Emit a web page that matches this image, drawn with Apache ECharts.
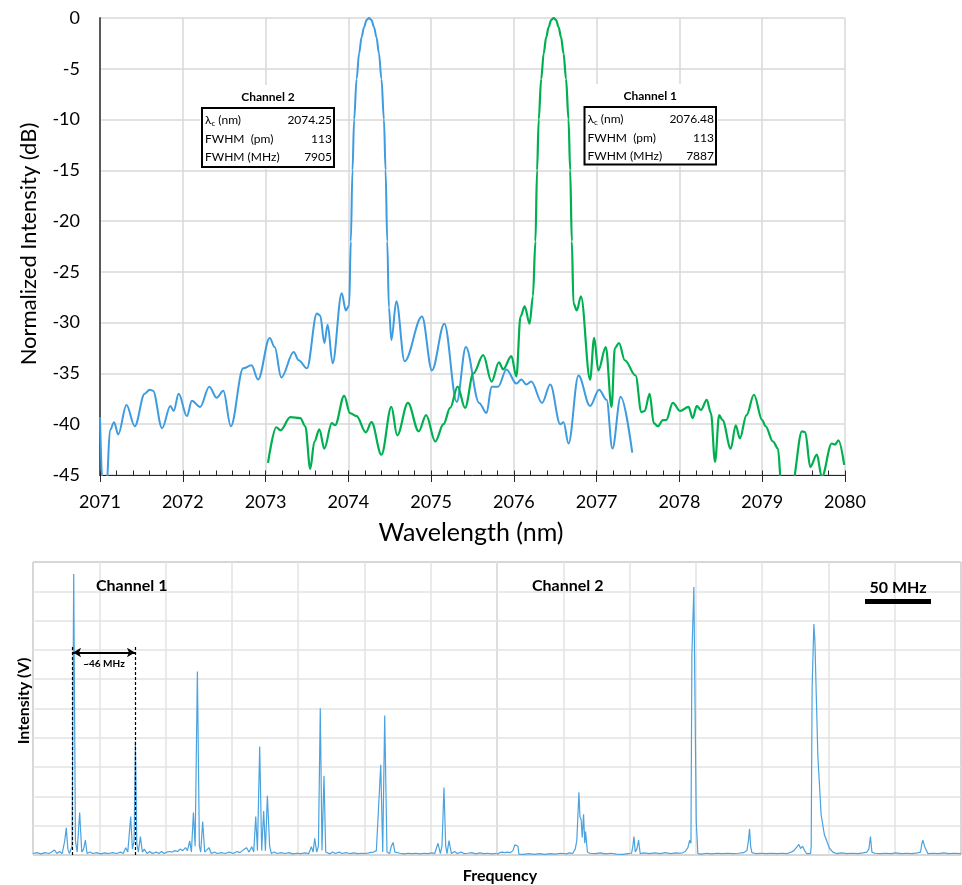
<!DOCTYPE html>
<html>
<head>
<meta charset="utf-8">
<script src="https://cdn.jsdelivr.net/npm/echarts@6/dist/echarts.min.js"></script>
<style>
html,body{margin:0;padding:0;background:#fff;}
#chart{width:962px;height:885px;}
</style>
</head>
<body>
<div id="chart"></div>
<script>
// ---------- Data ----------
// Optical spectrum, Channel 2 (blue): [wavelength nm, dB]
const specCh2 = [
[2071.00,-39.3],[2071.03,-46],[2071.05,-48],[2071.08,-46],[2071.12,-40.6],[2071.17,-39.8],[2071.22,-41],[2071.32,-38.1],[2071.42,-40.2],[2071.54,-37],[2071.60,-36.6],[2071.64,-36.7],[2071.75,-40.4],[2071.85,-38.2],[2071.89,-38.7],[2071.95,-37],[2072.05,-39.2],[2072.11,-37.7],[2072.21,-38.3],[2072.32,-36.3],[2072.41,-37.4],[2072.49,-36.7],[2072.58,-40.2],[2072.73,-34.5],[2072.83,-34.2],[2072.91,-35.6],[2073.05,-31.5],[2073.11,-32.4],[2073.19,-35.4],[2073.34,-32.9],[2073.40,-33.7],[2073.50,-34.5],[2073.62,-29.1],[2073.66,-29.3],[2073.71,-32],[2073.75,-30.2],[2073.81,-34],[2073.92,-27.1],[2073.97,-28.8],[2074.01,-28.3],
[2074.03,-22],[2074.05,-15],[2074.07,-10],[2074.10,-6],[2074.13,-3.5],[2074.16,-1.9],[2074.19,-0.9],[2074.22,-0.2],[2074.25,0],[2074.28,-0.2],[2074.31,-0.9],[2074.34,-1.9],[2074.37,-3.5],[2074.40,-6],[2074.43,-10],[2074.45,-15],[2074.47,-22],[2074.49,-28.5],
[2074.52,-31.7],[2074.58,-27.9],[2074.68,-33.8],[2074.89,-29.4],[2075.01,-34.7],[2075.16,-30.1],[2075.31,-37.8],[2075.42,-32.4],[2075.58,-37.9],[2075.67,-38.9],[2075.73,-36.3],[2075.81,-36.3],[2075.91,-34.6],[2076.03,-36],[2076.09,-35.6],[2076.15,-36.1],[2076.21,-35.8],[2076.34,-37.9],[2076.44,-36.1],[2076.56,-40],[2076.60,-39.8],[2076.66,-41.9],[2076.78,-35.2],[2076.92,-38.2],[2077.03,-36.6],[2077.12,-37.6],[2077.19,-42.4],[2077.29,-37.3],[2077.43,-42.8]
];
// Optical spectrum, Channel 1 (green)
const specCh1 = [
[2073.03,-43.8],[2073.13,-40.3],[2073.18,-40.6],[2073.30,-39.3],[2073.42,-39.4],[2073.48,-40.2],[2073.54,-44.4],[2073.59,-41.7],[2073.65,-40.5],[2073.71,-42.4],[2073.80,-39.9],[2073.84,-40.1],[2073.95,-37.2],[2074.02,-38.9],[2074.10,-39.2],[2074.21,-40.8],[2074.28,-39.8],[2074.40,-43],[2074.52,-38.3],[2074.59,-41.1],[2074.72,-37.9],[2074.85,-40.7],[2074.94,-39.1],[2075.05,-41.7],[2075.15,-40],[2075.23,-38.4],[2075.32,-36.3],[2075.41,-38.4],[2075.51,-35],[2075.63,-33.2],[2075.73,-35.8],[2075.82,-33.9],[2075.87,-34.6],[2075.97,-33.3],[2076.03,-35.3],[2076.08,-29.4],[2076.13,-28.4],[2076.19,-30.1],[2076.23,-27.4],
[2076.26,-22],[2076.28,-15],[2076.30,-10],[2076.33,-6],[2076.36,-3.5],[2076.39,-1.9],[2076.42,-0.9],[2076.45,-0.2],[2076.48,0],[2076.51,-0.2],[2076.54,-0.9],[2076.57,-1.9],[2076.60,-3.5],[2076.63,-6],[2076.66,-10],[2076.68,-15],[2076.70,-22],[2076.72,-28.1],
[2076.76,-28.8],[2076.81,-27.4],[2076.92,-35.6],[2076.97,-31.5],[2077.02,-34.7],[2077.11,-32.4],[2077.18,-38.3],[2077.22,-32.5],[2077.27,-32],[2077.34,-33.7],[2077.47,-35.2],[2077.54,-38.8],[2077.58,-38.7],[2077.64,-37],[2077.69,-39.9],[2077.74,-40.2],[2077.80,-39.6],[2077.84,-39.6],[2077.92,-37.9],[2078.01,-38.7],[2078.11,-38.3],[2078.16,-39.4],[2078.21,-38.2],[2078.26,-38.6],[2078.33,-37.6],[2078.38,-38.9],[2078.43,-43.7],[2078.48,-39.1],[2078.52,-39.6],[2078.62,-42.4],[2078.68,-40.1],[2078.73,-41.4],[2078.81,-39.1],[2078.90,-37.1],[2079.00,-39.6],[2079.04,-40.2],[2079.13,-41.7],[2079.19,-42.4],[2079.23,-46],[2079.29,-49],[2079.36,-46],[2079.48,-40.7],[2079.52,-40.8],[2079.58,-44.2],[2079.66,-43],[2079.72,-45.2],[2079.84,-41.9],[2079.88,-42],[2079.92,-41.6],[2079.99,-44]
];
// RF beat spectrum, Channel 1: [frequency MHz, intensity (grid units)]
const rfCh1 = [
[0,0.05],[3,0.08],[6,0.04],[9,0.08],[12,0.05],[14,0.1],[16.3,0.17],[18,0.05],[20,0.12],[22,0.05],[24,0.5],[25.1,0.93],[26.3,0.2],[27.5,0.05],[29.5,0.3],[30.7,9.59],[32,0.5],[33.3,0.1],[35.2,1.45],[36.8,0.1],[38.2,0.2],[39.5,0.51],[40.8,0.05],[43,0.1],[45,0.05],[48,0.08],[51,0.04],[54,0.07],[57,0.05],[60,0.08],[63,0.05],[66,0.1],[68,0.05],[70,0.25],[71.5,0.1],[73.7,1.31],[75,0.2],[76.3,0.5],[77.2,3.87],[78.3,0.4],[79.5,0.1],[81,0.63],[82.5,0.1],[84,0.2],[86,0.05],[88,0.12],[90,0.05],[93,0.1],[95,0.05],[97,0.12],[99,0.05],[101,0.1],[103,0.12],[105,0.1],[107,0.15],[109,0.12],[111,0.2],[113,0.15],[115,0.25],[116.5,0.15],[118.2,0.48],[119.5,0.1],[121,1.45],[122.3,0.3],[124,6.26],[125.5,0.3],[126.5,0.1],[128,1.14],[129.5,0.1],[131,0.05],[132.8,0.25],[134.5,0.05],[137,0.1],[139,0.05],[142,0.08],[145,0.05],[148,0.1],[151,0.05],[154,0.12],[156,0.08],[158,0.15],[161,0.25],[163,0.1],[165,0.28],[166.5,0.1],[168,1.31],[169.3,0.15],[171,3.7],[172.5,0.15],[174,1.5],[175.3,0.15],[176.8,2.02],[178.5,0.3],[179.8,0.05],[182,0.1],[184,0.05],[187,0.08],[190,0.05],[193,0.08],[196,0.04],[199,0.06],[202,0.05],[205,0.07],[208,0.05],[210,0.28],[211.3,0.1],[212.5,0.57],[214,0.1],[215.3,0.3],[216.7,5.01],[218,0.15],[219.5,2.7],[220.8,0.1],[222,0.05],[224,0.04],[226,0.1],[228,0.05],[231,0.1],[233,0.05],[236,0.08],[239,0.05],[242,0.07],[245,0.05],[248,0.06],[251,0.05],[254,0.08],[257,0.1],[259,0.15],[260.5,0.1],[262.3,3.08],[263.8,0.1],[265.3,4.76],[267,0.1],[269,0.05],[270.3,0.3],[271.6,0.43],[273,0.1],[274.5,0.05],[277,0.06],[280,0.04],[283,0.06],[286,0.05],[289,0.06],[292,0.04],[295,0.06],[298,0.05],[301,0.07],[303,0.05],[305.5,0.4],[307.3,0.05],[308.5,0.3],[310,2.3],[311.3,0.3],[312.3,0.05],[313.8,0.49],[315.6,0.05],[318,0.12],[320,0.05],[323,0.1],[325,0.05],[328,0.06],[331,0.08],[334,0.04],[337,0.07],[340,0.05],[343,0.06],[346,0.04],[350,0.06]
];
// RF beat spectrum, Channel 2
const rfCh2 = [
[0,0.02],[2,0.08],[4,0.1],[6,0.08],[8,0.1],[10,0.08],[12,0.15],[13.5,0.35],[14.6,0.4],[15.8,0.3],[16.5,0.03],[20,0.02],[24,0.05],[28,0.02],[32,0.05],[36,0.02],[40,0.05],[44,0.03],[48,0.06],[52,0.04],[55,0.07],[57,0.05],[59,0.2],[60.2,0.5],[61.8,2.14],[62.6,1.3],[63.5,1.2],[64.3,0.6],[65.3,1.39],[66.2,0.4],[66.8,0.8],[67.4,0.74],[68.2,0.1],[70,0.06],[74,0.05],[78,0.07],[82,0.04],[86,0.06],[90,0.03],[95,0.02],[99,0.05],[101.5,0.06],[102.5,0.3],[103.3,0.63],[104.3,0.1],[105.5,0.2],[106.8,0.51],[108,0.05],[111,0.07],[115,0.05],[119,0.07],[123,0.05],[127,0.08],[131,0.05],[135,0.07],[139,0.06],[142,0.12],[144,0.25],[145.3,0.5],[146.3,0.4],[147,6.8],[148.5,9.15],[149,6.8],[150.3,1.14],[151.5,0.05],[154,0.03],[158,0.06],[162,0.04],[166,0.06],[170,0.05],[174,0.06],[178,0.05],[182,0.06],[186,0.08],[188.5,0.15],[189.7,0.5],[190.5,0.89],[191.3,0.3],[192.3,0.08],[195,0.05],[199,0.06],[203,0.05],[207,0.06],[211,0.05],[215,0.06],[219,0.05],[222,0.1],[224,0.15],[225.5,0.2],[227.7,0.36],[229,0.22],[230.5,0.3],[232,0.15],[233.5,0.05],[236.5,0.05],[237,0.3],[237.7,5.7],[239,7.88],[239.8,7.3],[240.8,5.5],[242,3.4],[244.5,1.37],[247,0.68],[250.8,0.23],[253.3,0.1],[256,0.05],[260,0.07],[264,0.05],[268,0.06],[272,0.05],[276,0.07],[279,0.1],[280.5,0.2],[281.7,0.63],[282.8,0.1],[285,0.06],[289,0.05],[293,0.06],[297,0.05],[301,0.07],[305,0.05],[309,0.06],[313,0.05],[317,0.07],[319.5,0.1],[320.3,0.35],[321.2,0.51],[322.5,0.3],[323.5,0.2],[325,0.05],[329,0.06],[333,0.05],[337,0.07],[341,0.05],[345,0.06],[350,0.05]
];
// Tables
const tableCh2 = { title: 'Channel 2', lambda: '2074.25', fwhmPm: '113', fwhmMHz: '7905' };
const tableCh1 = { title: 'Channel 1', lambda: '2076.48', fwhmPm: '113', fwhmMHz: '7887' };
// Markers for the ~46 MHz spacing (MHz)
const spacingMarks = [29.9, 77.2];

// ---------- Chart ----------
const FONT = 'Lato, "Open Sans", sans-serif';
const chart = echarts.init(document.getElementById('chart'), null, { renderer: 'canvas' });

const grayGrid = '#d9d9d9';
const lightGrid = '#e3e3e3';

function tableGraphics(t, x, y, w, h, titleY) {
  const rowY = [y + 12, y + 31, y + 49];
  const fsz = 12;
  const els = [];
  els.push({ type: 'rect', shape: { x: x - 2, y: titleY - 12, width: w + 4, height: y + h - titleY + 14 }, style: { fill: '#fff' }, z: 100 });
  els.push({ type: 'rect', shape: { x: x, y: y, width: w, height: h }, style: { fill: 'none', stroke: '#000', lineWidth: 2 }, z: 101 });
  els.push({ type: 'text', x: x + w / 2, y: titleY, z: 102, style: { text: t.title, font: 'bold 12px ' + FONT, fill: '#000', align: 'center', verticalAlign: 'middle' } });
  els.push({ type: 'text', x: x + 3, y: rowY[0], z: 102, style: {
    text: '{a|λ}{b|c}{a| (nm)}', verticalAlign: 'middle', align: 'left', fill: '#000',
    rich: { a: { fontSize: fsz, fontFamily: FONT, fill: '#000', lineHeight: 14, verticalAlign: 'middle' },
            b: { fontSize: 8, fontFamily: FONT, fill: '#000', lineHeight: 14, verticalAlign: 'bottom' } } } });
  els.push({ type: 'text', x: x + 3, y: rowY[1], z: 102, style: { text: 'FWHM  (pm)', font: fsz + 'px ' + FONT, fill: '#000', align: 'left', verticalAlign: 'middle' } });
  els.push({ type: 'text', x: x + 3, y: rowY[2], z: 102, style: { text: 'FWHM (MHz)', font: fsz + 'px ' + FONT, fill: '#000', align: 'left', verticalAlign: 'middle' } });
  [t.lambda, t.fwhmPm, t.fwhmMHz].forEach((v, i) => {
    els.push({ type: 'text', x: x + w - 2, y: rowY[i], z: 102, style: { text: v, font: fsz + 'px ' + FONT, fill: '#000', align: 'right', verticalAlign: 'middle' } });
  });
  return els;
}

const option = {
  backgroundColor: '#fff',
  animation: false,
  grid: [
    { left: 100, top: 18, width: 745, height: 457 },
    { left: 33, top: 562, width: 464, height: 293, show: true, borderColor: '#6b6b6b', borderWidth: 1 },
    { left: 497, top: 562, width: 464, height: 293, show: true, borderColor: '#6b6b6b', borderWidth: 1 }
  ],
  xAxis: [
    { gridIndex: 0, type: 'value', min: 2071, max: 2080, interval: 1, position: 'bottom',
      axisLine: { show: true, onZero: false, lineStyle: { color: '#262626', width: 1 } },
      axisTick: { show: true, inside: true, length: 4.5, lineStyle: { color: '#262626' } },
      minorTick: { show: true, splitNumber: 5, length: 4.5, lineStyle: { color: '#262626' } },
      axisLabel: { show: true, fontSize: 18, fontFamily: FONT, color: '#000', margin: 18, formatter: v => String(v) },
      splitLine: { show: true, lineStyle: { color: grayGrid, width: 1.5 } } },
    { gridIndex: 0, type: 'value', min: 2071, max: 2080, interval: 1, position: 'bottom',
      axisLine: { show: false, onZero: false },
      axisTick: { show: true, inside: false, length: 7, lineStyle: { color: '#262626' } },
      axisLabel: { show: false }, splitLine: { show: false } },
    { gridIndex: 1, type: 'value', min: 0, max: 350, interval: 50,
      axisLine: { show: false }, axisTick: { show: false }, axisLabel: { show: false },
      splitLine: { show: true, lineStyle: { color: lightGrid, width: 1.5 } } },
    { gridIndex: 2, type: 'value', min: 0, max: 350, interval: 50,
      axisLine: { show: false }, axisTick: { show: false }, axisLabel: { show: false },
      splitLine: { show: true, lineStyle: { color: lightGrid, width: 1.5 } } }
  ],
  yAxis: [
    { gridIndex: 0, type: 'value', min: -45, max: 0, interval: 5,
      axisLine: { show: true, onZero: false, lineStyle: { color: '#595959', width: 2 } },
      axisTick: { show: false },
      axisLabel: { fontSize: 18, fontFamily: FONT, color: '#000', margin: 20 },
      splitLine: { show: true, lineStyle: { color: grayGrid, width: 1.5 } } },
    { gridIndex: 1, type: 'value', min: 0, max: 10, interval: 1,
      axisLine: { show: false }, axisTick: { show: false }, axisLabel: { show: false },
      splitLine: { show: true, lineStyle: { color: lightGrid, width: 1.5 } } },
    { gridIndex: 2, type: 'value', min: 0, max: 10, interval: 1,
      axisLine: { show: false }, axisTick: { show: false }, axisLabel: { show: false },
      splitLine: { show: true, lineStyle: { color: lightGrid, width: 1.5 } } }
  ],
  series: [
    { name: 'Channel 2', type: 'line', xAxisIndex: 0, yAxisIndex: 0, data: specCh2,
      showSymbol: false, smooth: 0.35, smoothMonotone: 'x', clip: true,
      lineStyle: { color: '#3d9be0', width: 2 } },
    { name: 'Channel 1', type: 'line', xAxisIndex: 0, yAxisIndex: 0, data: specCh1,
      showSymbol: false, smooth: 0.35, smoothMonotone: 'x', clip: true,
      lineStyle: { color: '#00b050', width: 2.2 } },
    { name: 'RF Channel 1', type: 'line', xAxisIndex: 2, yAxisIndex: 1, data: rfCh1,
      showSymbol: false, smooth: false, clip: true,
      lineStyle: { color: '#4aa3df', width: 1.2 },
      markLine: {
        silent: true, animation: false, label: { show: false },
        data: [
          [{ coord: [spacingMarks[0], 0], symbol: 'none', lineStyle: { type: [3, 2], color: '#000', width: 1.2 } }, { coord: [spacingMarks[0], 7.1], symbol: 'none' }],
          [{ coord: [spacingMarks[1], 0], symbol: 'none', lineStyle: { type: [3, 2], color: '#000', width: 1.2 } }, { coord: [spacingMarks[1], 7.1], symbol: 'none' }],
          [{ coord: [spacingMarks[0] + 0.3, 6.91], symbol: 'arrow', symbolSize: [7, 8], lineStyle: { type: 'solid', color: '#000', width: 2 } }, { coord: [spacingMarks[1] - 0.3, 6.91], symbol: 'arrow', symbolSize: [7, 8] }]
        ]
      } },
    { name: 'RF Channel 2', type: 'line', xAxisIndex: 3, yAxisIndex: 2, data: rfCh2,
      showSymbol: false, smooth: false, clip: true,
      lineStyle: { color: '#4aa3df', width: 1.2 } }
  ],
  graphic: [].concat(
    tableGraphics(tableCh2, 202, 108, 132, 59, 97),
    tableGraphics(tableCh1, 584.5, 107, 131.5, 57.5, 96),
    [
      { type: 'text', x: 29, y: 244, rotation: Math.PI / 2, style: { text: 'Normalized Intensity (dB)', font: '22px ' + FONT, fill: '#000', align: 'center', verticalAlign: 'middle' } },
      { type: 'text', x: 471, y: 533, style: { text: 'Wavelength (nm)', font: '25px ' + FONT, fill: '#000', align: 'center', verticalAlign: 'middle' } },
      { type: 'text', x: 24, y: 701, rotation: Math.PI / 2, style: { text: 'Intensity (V)', font: 'bold 16px ' + FONT, fill: '#000', align: 'center', verticalAlign: 'middle' } },
      { type: 'text', x: 500, y: 876, style: { text: 'Frequency', font: 'bold 16px ' + FONT, fill: '#000', align: 'center', verticalAlign: 'middle' } },
      { type: 'text', x: 96, y: 586, z: 100, style: { text: 'Channel 1', font: 'bold 16px ' + FONT, fill: '#000', align: 'left', verticalAlign: 'middle' } },
      { type: 'text', x: 532, y: 586, z: 100, style: { text: 'Channel 2', font: 'bold 16px ' + FONT, fill: '#000', align: 'left', verticalAlign: 'middle' } },
      { type: 'text', x: 898, y: 596, z: 100, style: { text: '50 MHz', font: 'bold 16px ' + FONT, fill: '#000', align: 'center', verticalAlign: 'bottom' } },
      { type: 'rect', z: 100, shape: { x: 865, y: 599, width: 66, height: 5 }, style: { fill: '#000' } },
      { type: 'text', x: 104, y: 664, z: 100, style: { text: '~46 MHz', font: 'bold 10px ' + FONT, fill: '#000', align: 'center', verticalAlign: 'middle' } }
    ]
  )
};
chart.setOption(option);
</script>
</body>
</html>
